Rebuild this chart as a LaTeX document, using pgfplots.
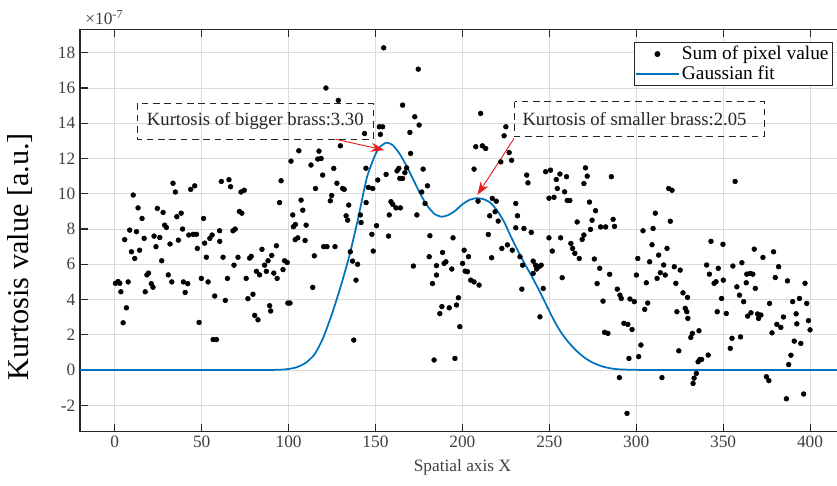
\documentclass[border=0pt]{standalone}
\usepackage{pgfplots}
\pgfplotsset{compat=1.18}
\usepackage{pgfplotstable}
\usepackage{fontspec}
\setmainfont{Liberation Serif}
\usetikzlibrary{arrows.meta}
\definecolor{mblue}{RGB}{0,114,189}
\definecolor{mred}{RGB}{230,30,32}
\definecolor{axgray}{RGB}{38,38,38}

\pgfplotstableread{
x y
0.4 4.92
1.9 5.02
2.9 4.92
3.5 4.44
4.8 2.68
6.7 3.53
7.7 5.0
9.6 6.71
11.5 6.33
14.3 6.8
17.5 4.44
18.5 5.4
19.4 5.5
21.0 4.9
22.0 4.7
23.7 7.0
27.0 6.2
30.8 5.4
32.8 5.0
31.8 7.15
36.6 7.37
39.5 5.0
42.0 4.9
40.5 4.4
47.5 6.9
48.5 2.7
49.8 5.2
51.7 7.2
52.7 6.4
53.7 5.0
56.6 1.73
58.5 1.73
57.5 4.2
60.4 7.3
62.3 6.4
63.6 3.95
64.8 5.2
68.6 5.95
70.9 6.4
75.6 5.2
76.6 4.05
77.6 6.35
78.5 6.45
79.5 4.3
80.5 3.1
82.4 2.85
81.5 5.6
83.3 5.4
84.7 6.85
86.2 5.95
87.2 5.6
88.2 6.2
89.1 3.65
89.7 3.35
90.3 6.5
91.5 5.5
93.4 5.2
93.0 7.05
96.8 5.7
97.7 6.2
99.2 6.1
99.6 3.8
100.8 3.8
103.8 7.4
109.5 7.35
10.6 9.93
13.4 9.2
15.7 8.6
8.6 7.94
12.5 7.85
5.7 7.4
16.9 7.47
24.5 9.17
27.8 8.94
28.7 8.22
29.7 8.09
22.6 7.6
25.9 7.52
33.5 10.6
34.9 10.1
35.7 8.7
38.2 8.9
39.0 8.0
43.7 10.25
46.0 10.45
42.6 7.66
45.1 7.7
47.0 7.7
51.1 8.6
54.7 7.47
56.0 7.66
60.3 7.9
61.3 10.7
65.7 10.8
66.6 10.4
68.0 7.9
69.3 8.0
71.7 9.0
73.1 8.9
72.6 10.1
74.5 10.2
94.8 9.5
95.7 10.74
101.4 11.85
105.9 12.44
102.4 8.8
102.8 8.13
103.9 8.26
107.2 9.64
108.2 9.07
110.1 8.22
105.3 7.5
154.7 18.28
174.6 17.07
121.5 16.0
128.6 15.3
165.6 15.03
172.6 14.37
175.1 13.9
152.2 13.8
154.1 13.8
152.8 13.37
143.7 13.42
129.8 12.72
169.8 13.48
170.2 12.29
117.5 12.42
116.8 11.97
118.7 12.0
112.9 11.63
119.6 11.06
126.0 11.44
115.5 10.3
144.5 11.45
127.8 10.6
131.1 10.3
132.0 10.25
124.8 9.9
124.0 9.6
145.9 10.36
148.4 10.3
151.3 10.78
156.1 11.1
162.4 11.3
163.4 11.44
164.0 10.87
165.6 10.87
167.9 11.47
166.9 11.2
144.6 9.5
134.6 9.36
133.1 8.75
134.0 8.5
141.3 8.8
141.7 8.37
158.9 9.55
159.9 9.4
161.8 9.2
164.3 9.2
157.9 8.8
173.8 8.8
150.6 8.19
147.9 7.7
157.5 7.6
148.7 6.75
120.2 7.0
122.1 7.0
126.7 7.0
114.8 6.48
135.5 6.71
136.8 6.18
139.7 6.0
138.8 5.1
113.9 4.69
171.8 5.9
137.5 1.7
177.4 11.4
179.9 10.45
176.6 10.1
178.5 9.45
181.3 7.62
194.6 7.5
180.9 6.43
185.1 5.92
188.6 6.67
190.5 6.14
189.5 6.05
185.1 5.39
182.8 4.91
193.9 5.73
188.2 3.6
187.0 3.2
192.4 3.53
196.6 3.69
197.7 4.1
198.5 2.46
183.7 0.57
195.7 0.66
201.0 6.8
203.5 6.43
200.1 6.05
201.6 5.61
202.9 5.58
204.8 5.1
206.7 5.0
209.6 4.82
206.7 11.4
207.7 12.67
211.5 12.72
213.4 12.57
210.5 14.56
209.0 9.58
214.9 7.69
215.7 8.75
218.8 8.98
220.6 8.45
217.2 9.74
219.5 9.58
216.8 6.37
222.7 6.9
225.9 7.1
222.1 11.81
224.0 13.29
225.0 13.8
226.9 12.34
228.3 11.9
230.7 9.45
231.7 8.75
230.7 8.07
228.7 6.8
233.1 6.43
234.6 5.95
234.2 4.59
237.0 11.06
237.7 10.62
247.9 11.25
250.7 11.34
254.0 10.81
256.1 11.12
259.9 10.97
254.6 10.3
258.8 10.11
249.8 9.75
252.7 9.8
260.3 9.62
261.8 9.62
270.8 11.47
271.8 11.0
269.9 10.58
273.1 9.53
285.7 10.97
276.6 9.04
266.0 8.4
274.6 8.5
273.7 7.98
269.9 7.66
268.9 7.41
279.5 8.12
282.4 8.12
286.7 8.55
287.5 8.15
256.5 7.5
249.8 7.5
251.7 6.75
235.4 8.03
239.6 7.81
262.4 7.18
263.4 6.9
264.7 6.62
267.2 6.33
240.7 6.18
242.1 5.95
244.0 5.86
245.3 5.95
242.7 5.73
240.7 5.48
246.5 4.63
244.6 3.02
257.4 5.24
275.9 6.3
279.0 5.77
284.7 5.43
277.5 4.91
280.9 3.91
289.1 4.59
290.6 4.25
291.4 4.06
296.4 4.03
281.8 2.14
283.7 2.08
292.9 2.65
295.2 2.59
295.8 0.66
290.3 -0.43
294.7 -2.46
303.9 7.9
309.7 8.03
311.0 8.9
319.6 8.44
318.7 10.3
320.6 10.2
309.1 7.11
317.7 6.9
356.9 10.7
343.0 7.3
349.9 7.13
367.9 6.86
298.9 3.88
297.6 2.3
300.9 6.33
300.1 5.39
304.9 3.44
302.7 1.42
301.4 0.76
305.8 4.95
307.7 6.14
306.6 3.8
312.9 6.52
313.9 5.52
312.0 5.2
315.8 5.96
316.7 5.39
314.8 -0.43
321.9 5.86
325.3 5.67
322.8 4.92
323.4 3.31
328.2 3.5
329.1 3.31
326.9 4.38
329.5 4.12
329.7 2.93
324.5 1.09
331.4 1.85
332.3 2.08
336.1 2.23
333.3 -0.46
334.6 -0.19
332.7 -0.76
335.6 0.47
336.6 0.6
337.6 0.6
341.4 0.85
340.5 5.96
342.1 5.44
344.8 4.92
345.9 5.01
346.6 3.31
349.1 4.06
347.2 5.77
350.1 5.1
351.8 3.21
354.1 1.23
355.1 1.8
355.6 5.9
360.8 6.09
357.9 4.72
363.6 5.44
365.5 5.48
367.1 5.44
359.4 4.25
361.8 3.88
360.0 1.88
363.3 4.95
368.5 4.63
364.1 3.06
366.0 3.25
370.4 2.93
369.8 3.18
371.7 3.12
372.9 6.39
379.0 6.71
376.7 3.78
378.1 2.11
374.9 -0.38
376.3 -0.6
380.0 5.25
381.9 5.86
380.9 2.59
383.2 2.42
384.7 3.01
387.0 5.06
390.0 3.88
393.9 4.06
397.1 4.92
392.4 2.62
392.0 3.19
394.7 1.51
390.9 1.64
389.0 0.84
387.7 0.31
386.4 -1.63
396.3 -1.36
398.1 3.78
399.1 2.8
400.0 2.28
}\pixeldata

\pgfplotstableread{
x y
-20 0
80 0
95 0.02
100 0.06
105 0.17
110 0.42
115 0.9
120 1.85
125 3.2
130 4.75
135 6.5
140 8.6
145 10.9
150 12.25
153 12.7
156.5 12.9
160 12.75
164 12.25
168 11.55
172 10.75
176 9.95
180 9.3
184 8.85
188 8.7
192 8.8
196 9.05
200 9.4
204 9.65
208 9.75
212 9.7
216 9.5
220 9.05
224 8.4
228 7.55
232 6.75
236 6.0
240 5.3
244 4.55
248 3.75
252 2.95
256 2.25
260 1.7
265 1.15
270 0.72
275 0.42
280 0.22
285 0.1
290 0.04
300 0.01
320 0
420 0
}\fitdata

\begin{document}
\begin{tikzpicture}
\path[use as bounding box] (-60pt,-40pt) rectangle (567.75pt,323.8pt);
\clip (-60pt,-40pt) rectangle (567.75pt,323.8pt);
\begin{axis}[
  name=ax,
  at={(0pt,0pt)}, anchor=south west,
  scale only axis, width=573.6pt, height=301.8pt,
  xmin=-20, xmax=420, ymin=-3.5, ymax=19.33,
  xtick={0,50,...,400}, ytick={-2,0,...,18},
  grid=major,
  major grid style={line width=0.5pt, draw=black!14},
  tick align=inside, tick pos=both,
  major tick length=6pt,
  axis line style={draw=axgray, line width=0.8pt},
  every tick/.style={draw=axgray, line width=0.8pt},
  ticklabel style={font=\fontsize{13}{15.6}\selectfont, text=black!75},
  /pgf/number format/assume math mode=true,
  xlabel={Spatial axis X},
  xlabel style={font=\fontsize{13}{15.6}\selectfont, text=black!75, at={(axis description cs:0.5,0)}, anchor=center, yshift=-26.6pt},
  legend style={at={(axis description cs:1,1)}, anchor=north east, xshift=-8.8pt, yshift=-9.3pt,
    draw=axgray, line width=0.8pt, font=\fontsize{14.5}{16}\selectfont,
    inner xsep=1pt, inner ysep=1pt, row sep=-1pt},
  legend cell align=left,
  legend image code/.code={\draw[mark repeat=2,mark phase=2,#1] plot coordinates {(0pt,0pt) (15.75pt,0pt) (31.5pt,0pt)};},
]
\addplot[only marks, mark=*, mark size=1.8pt, black] table[x=x,y=y] {\pixeldata};
\addlegendentry{Sum of pixel value}
\addplot[mblue, line width=1.3pt, smooth, tension=0.4] table[x=x,y=y] {\fitdata};
\addlegendentry{Gaussian fit}

\draw[axgray, line width=0.9pt, dash pattern=on 5pt off 3.5pt] (axis cs:13,15.13) rectangle (axis cs:148.7,13.09);
\node[font=\fontsize{14}{16}\selectfont, text=axgray] at (axis cs:80.85,14.11) {Kurtosis of bigger brass:3.30};
\draw[mred, line width=0.7pt, -{Stealth[length=10pt,width=7pt]}] (axis cs:127.2,13.09) -- (axis cs:155.0,12.48);

\draw[axgray, line width=0.9pt, dash pattern=on 5pt off 3.5pt] (axis cs:230.1,15.22) rectangle (axis cs:373.6,13.23);
\node[font=\fontsize{14}{16}\selectfont, text=axgray] at (axis cs:299,14.22) {Kurtosis of smaller brass:2.05};
\draw[mred, line width=0.7pt, -{Stealth[length=10pt,width=7pt]}] (axis cs:229.7,13.14) -- (axis cs:208.6,9.93);
\end{axis}
\node[anchor=base west, font=\fontsize{13}{15.6}\selectfont, text=black!75, xshift=0.5pt, yshift=3.5pt] at (ax.north west) {×10\textsuperscript{-7}};
\path (ax.south west) ++(-45pt,131.4pt) node[rotate=90, anchor=center, font=\fontsize{22.7}{27}\selectfont, inner sep=0pt] {Kurtosis value [a.u.]};
\end{tikzpicture}
\end{document}
